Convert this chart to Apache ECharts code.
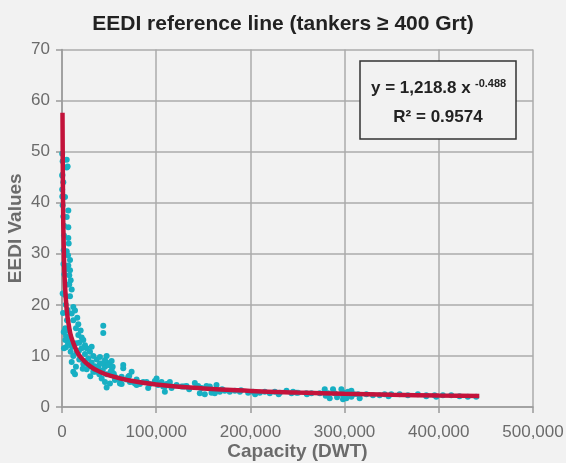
<!DOCTYPE html>
<html>
<head>
<meta charset="utf-8">
<script src="https://cdn.jsdelivr.net/npm/echarts@6/dist/echarts.min.js"></script>
<style>
  html, body { margin: 0; padding: 0; background: #f2f2f2; }
  #chart { width: 566px; height: 463px; }
</style>
</head>
<body>
<div id="chart"></div>
<script>
// ship capacity (DWT) and EEDI value of each tanker
const shipDwt = [
  200, 5000, 700, 5000, 300, 1400, 200, 300, 3200, 700, 6700, 1400, 5000, 2100, 6700, 2100, 6700,
  7100, 1800, 6400, 400, 6000, 5000, 8500, 6700, 8500, 7700, 9200, 7700, 10300, 700, 8500,
  12000, 13800, 10300, 16200, 12000, 17300, 14800, 3200, 19800, 17300, 4200, 20900, 7700, 22600,
  18300, 10300, 24400, 2100, 26200, 20900, 9200, 29700, 15600, 24400, 12000, 33200, 27900, 18300,
  10300, 36800, 31500, 40300, 22600, 14800, 38500, 45600, 33200, 26200, 47400, 50900, 43200, 52700,
  12000, 13800, 35000, 39600, 47400, 56200, 42100, 65000, 65000, 63300, 45600, 50900, 47400, 61500,
  70300, 72100, 79200, 77400, 82700, 89800, 93300, 100400, 102100, 107400, 111000, 116300, 121600,
  109200, 128600, 43800, 43800,
  1800, 3500, 4200, 1100, 3500, 5300, 7100, 8800, 10600, 6400,
  31500, 40300, 47400, 45600, 42100, 52700, 49100, 53800, 33200, 40300, 51600, 73900, 71400, 56200,
  63300, 68600, 75600, 79200, 86200, 91500, 98600, 102100, 105700, 109200, 114500, 116300, 126900,
  132200,
  130400, 141000, 144500, 148100, 153400, 156900, 164000, 146300, 151600, 158700, 162200, 167500,
  172800, 178100, 183500, 188800, 197600, 202900, 210000, 215300, 220600, 225900, 231200, 238300,
  243600, 248900,
  245300, 250600, 259500, 264800, 273600, 278900, 282400, 284200, 287700, 289500, 296600, 298300,
  298300, 303600, 307200, 307200, 314200, 316000, 323100, 330100, 337200, 342500, 349600, 358400,
  367200, 377800, 386700, 395500, 404300,
  301900, 346600, 386700, 397300, 413200, 422000, 430800, 439700,
  2500, 4000, 1500, 3000, 5500, 6000, 4500, 15000, 18000, 25000, 28000, 35000, 42000, 55000,
  60000, 30000, 22000, 135000, 170000, 190000, 205000, 230000, 260000, 280000, 292000, 300000, 310000
];
const eediValues = [
  49.6, 48.4, 48.1, 46.9, 45.3, 44.0, 42.6, 41.2, 41.1, 39.5, 38.5, 37.3, 37.2, 35.5, 35.2, 33.6, 33.1,
  32.0, 30.7, 29.7, 45.5, 47.1, 30.5, 28.8, 27.7, 26.8, 25.8, 24.8, 24.0, 23.0, 22.2, 21.7,
  19.6, 18.9, 18.3, 17.5, 17.0, 16.2, 15.4, 15.0, 15.0, 14.1, 13.9, 13.6, 13.1, 13.1,
  12.6, 12.1, 12.1, 11.5, 11.5, 11.5, 10.8, 10.8, 10.6, 10.4, 10.0, 10.0, 9.5, 9.3,
  8.8, 9.3, 8.7, 8.5, 8.4, 7.9, 7.9, 7.9, 7.6, 7.4, 8.7, 8.2, 7.2, 7.2,
  6.9, 6.4, 6.9, 6.4, 6.4, 5.9, 5.6, 8.2, 7.6, 5.9, 4.9, 4.6, 3.8, 4.6,
  5.9, 4.9, 5.4, 4.6, 4.5, 4.9, 4.5, 5.6, 4.6, 4.0, 4.5, 4.0, 4.3,
  3.0, 4.0, 15.9, 14.5,
  14.7, 13.1, 11.7, 18.4, 15.4, 17.0, 15.0, 13.5, 11.8, 12.4,
  11.8, 9.8, 10.0, 9.2, 8.5, 9.0, 8.2, 7.9, 6.9, 6.6, 6.9, 6.9, 6.1, 5.3,
  4.5, 5.4, 4.9, 4.3, 4.9, 3.7, 5.1, 4.3, 4.9, 4.0, 4.9, 3.7, 4.0,
  4.1,
  4.0, 4.7, 4.1, 3.7, 4.1, 4.0, 4.3, 2.7, 2.5, 2.8, 2.7, 3.0,
  3.2, 3.0, 3.2, 3.0, 2.8, 3.0, 2.8, 3.0, 2.7, 3.0, 2.8, 3.2,
  2.7, 2.8,
  3.0, 2.8, 2.7, 2.7, 2.7, 3.5, 2.7, 1.7, 3.5, 2.7, 3.5, 2.3,
  1.5, 3.0, 3.2, 2.0, 2.5, 1.7, 2.5, 2.3, 2.3, 2.5, 2.5, 2.5,
  2.3, 2.5, 2.3, 2.3, 2.3,
  1.7, 2.1, 2.1, 2.0, 2.3, 2.1, 2.0, 2.0,
  26.0, 20.0, 28.0, 22.0, 24.0, 19.0, 27.0, 12.5, 11.0, 9.0, 8.0, 8.0, 7.0, 6.5,
  5.5, 6.0, 7.5, 3.5, 3.5, 3.3, 2.5, 2.5, 2.5, 2.2, 1.9, 2.8, 2.5
];

// reference line y = 1,218.8 x^-0.488
const curveDwt = [520, 1000, 2000, 3000, 5000, 7500, 10000, 15000, 20000, 30000, 40000, 50000,
  70000, 100000, 150000, 200000, 250000, 300000, 350000, 400000, 443000];
const curveEedi = [57.6, 41.9, 29.9, 24.5, 19.1, 15.7, 13.6, 11.2, 9.7, 7.96, 6.91, 6.2,
  5.26, 4.42, 3.63, 3.15, 2.83, 2.59, 2.4, 2.25, 2.14];

const xTicks = [0, 100000, 200000, 300000, 400000, 500000];
const yTicks = [0, 10, 20, 30, 40, 50, 60, 70];

const font = "'Liberation Sans', Arial, sans-serif";
const chart = echarts.init(document.getElementById("chart"));

chart.setOption({
  backgroundColor: "#f2f2f2",
  animation: false,
  textStyle: { fontFamily: font },
  title: {
    text: "EEDI reference line (tankers ≥ 400 Grt)",
    left: "center",
    top: 9,
    textStyle: { fontFamily: font, fontSize: 21, fontWeight: "bold", color: "#222" },
  },
  grid: {
    left: 62,
    right: 33,
    top: 49.5,
    bottom: 56,
    containLabel: false,
    outerBoundsMode: "none",
  },
  xAxis: {
    type: "value",
    min: xTicks[0],
    max: xTicks[xTicks.length - 1],
    interval: xTicks[1] - xTicks[0],
    name: "Capacity (DWT)",
    nameLocation: "middle",
    nameGap: 35,
    nameMoveOverlap: false,
    nameTextStyle: { fontFamily: font, fontSize: 19, fontWeight: "bold", color: "#6b6b6b" },
    axisLine: { show: true, lineStyle: { color: "#9a9a9a", width: 1.5 } },
    axisTick: { show: true, length: 6, lineStyle: { color: "#9a9a9a", width: 1.5 } },
    axisLabel: {
      margin: 17,
      fontSize: 17,
      color: "#6b6b6b",
      formatter: (v) => v.toLocaleString("en-US"),
    },
    splitLine: { show: true, lineStyle: { color: "#ababab", width: 1.5 } },
  },
  yAxis: {
    type: "value",
    min: yTicks[0],
    max: yTicks[yTicks.length - 1],
    interval: yTicks[1] - yTicks[0],
    name: "EEDI Values",
    nameLocation: "middle",
    nameGap: 37,
    nameMoveOverlap: false,
    nameTextStyle: { fontFamily: font, fontSize: 19, fontWeight: "bold", color: "#6b6b6b" },
    axisLine: { show: true, lineStyle: { color: "#9a9a9a", width: 1.5 } },
    axisTick: { show: true, length: 6, lineStyle: { color: "#9a9a9a", width: 1.5 } },
    axisLabel: { margin: 12, fontSize: 17, color: "#6b6b6b" },
    splitLine: { show: true, lineStyle: { color: "#ababab", width: 1.5 } },
  },
  graphic: [
    {
      type: "rect",
      shape: { x: 360, y: 61, width: 156, height: 78 },
      style: { fill: "#f2f2f2", stroke: "#333", lineWidth: 1.5 },
      z: 10,
    },
    {
      type: "text",
      x: 371,
      y: 88,
      style: {
        text: "y = 1,218.8 x",
        font: "bold 17px " + font,
        fill: "#222",
        verticalAlign: "middle",
      },
      z: 11,
    },
    {
      type: "text",
      x: 475,
      y: 84,
      style: {
        text: "-0.488",
        font: "bold 11px " + font,
        fill: "#222",
        verticalAlign: "middle",
      },
      z: 11,
    },
    {
      type: "text",
      x: 438,
      y: 117,
      style: {
        text: "R² = 0.9574",
        font: "bold 17px " + font,
        fill: "#222",
        align: "center",
        verticalAlign: "middle",
      },
      z: 11,
    },
  ],
  series: [
    {
      type: "scatter",
      data: shipDwt.map((x, i) => [x, eediValues[i]]),
      symbolSize: 6,
      itemStyle: { color: "#17afc3", opacity: 1 },
      z: 2,
    },
    {
      type: "line",
      data: curveDwt.map((x, i) => [x, curveEedi[i]]),
      smooth: true,
      showSymbol: false,
      lineStyle: { color: "#c3133b", width: 4.5 },
      z: 3,
    },
  ],
});
</script>
</body>
</html>
